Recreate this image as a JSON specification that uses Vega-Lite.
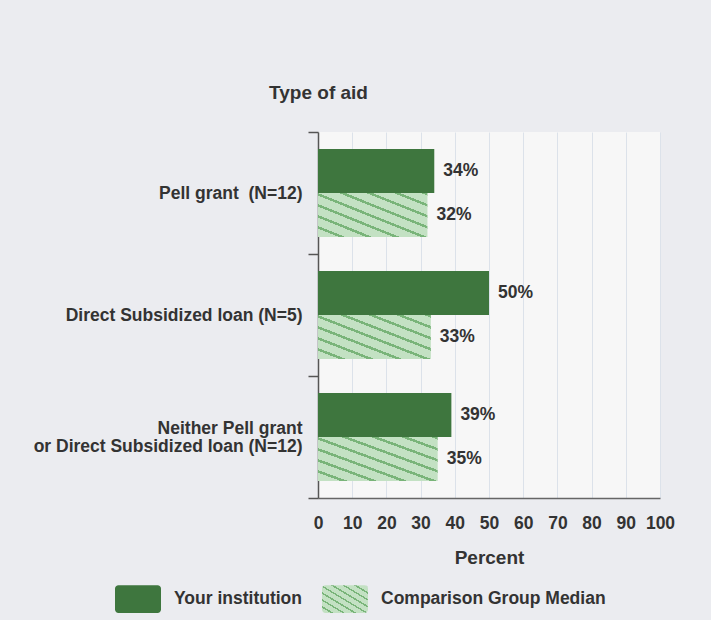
{
  "$schema": "https://vega.github.io/schema/vega-lite/v6.json",
  "width": 342,
  "height": 366,
  "autosize": "none",
  "padding": {"left": 318, "top": 132, "right": 51, "bottom": 122},
  "background": "#ebecf0",
  "config": {
    "font": "Liberation Sans",
    "view": {"fill": "#f7f7f7", "stroke": null}
  },
  "data": {
    "values": [
      {"aid": "Pell grant\u00a0 (N=12)", "series": "Your institution", "value": 34},
      {"aid": "Pell grant\u00a0 (N=12)", "series": "Comparison Group Median", "value": 32},
      {"aid": "Direct Subsidized loan (N=5)", "series": "Your institution", "value": 50},
      {"aid": "Direct Subsidized loan (N=5)", "series": "Comparison Group Median", "value": 33},
      {"aid": "Neither Pell grant|or Direct Subsidized loan (N=12)", "series": "Your institution", "value": 39},
      {"aid": "Neither Pell grant|or Direct Subsidized loan (N=12)", "series": "Comparison Group Median", "value": 35}
    ]
  },
  "encoding": {
    "y": {
      "field": "aid",
      "type": "nominal",
      "sort": null,
      "scale": {"paddingInner": 0, "paddingOuter": 0},
      "axis": {
        "title": "Type of aid",
        "titleAngle": 0,
        "titleX": 0,
        "titleY": -40,
        "titleAlign": "center",
        "titleBaseline": "middle",
        "titleFontSize": 19,
        "titleFontWeight": "bold",
        "titleColor": "#333333",
        "labelExpr": "split(datum.label, '|')",
        "labelFontSize": 17.5,
        "labelFontWeight": "bold",
        "labelColor": "#333333",
        "labelPadding": 6,
        "labelLineHeight": 18,
        "labelLimit": 400,
        "labelOffset": {"condition": {"test": "indexof(datum.label, '|') >= 0", "value": -9}, "value": 0},
        "tickSize": 10,
        "tickColor": "#555555",
        "tickWidth": 1.5,
        "tickBand": "extent",
        "domainColor": "#555555",
        "domainWidth": 1.5,
        "grid": false
      }
    },
    "yOffset": {
      "field": "series",
      "type": "nominal",
      "scale": {"domain": ["Your institution", "Comparison Group Median"], "paddingInner": 0, "paddingOuter": 0.386}
    },
    "x": {
      "field": "value",
      "type": "quantitative",
      "scale": {"domain": [0, 100]},
      "axis": {
        "title": "Percent",
        "values": [0, 10, 20, 30, 40, 50, 60, 70, 80, 90, 100],
        "grid": true,
        "gridColor": "#dce2ea",
        "gridWidth": 1,
        "ticks": false,
        "labelFlush": false,
        "labelPadding": 16,
        "labelFontSize": 17.5,
        "labelFontWeight": "bold",
        "labelColor": "#333333",
        "titleFontSize": 19,
        "titleFontWeight": "bold",
        "titleColor": "#333333",
        "titlePadding": 17,
        "domainColor": "#666666",
        "domainWidth": 1.5
      }
    }
  },
  "layer": [
    {
      "mark": {"type": "bar"},
      "encoding": {
        "color": {
          "field": "series",
          "type": "nominal",
          "scale": {
            "domain": ["Your institution", "Comparison Group Median"],
            "range": [
              "#3e763e",
              {"expr": "{gradient: 'linear', x1: 0, y1: 1, x2: 1, y2: 0, stops: [{offset: 0, color: '#c3e1c3'}, {offset: 0.095, color: '#c3e1c3'}, {offset: 0.095, color: '#79b479'}, {offset: 0.125, color: '#79b479'}, {offset: 0.125, color: '#c3e1c3'}, {offset: 0.22, color: '#c3e1c3'}, {offset: 0.22, color: '#79b479'}, {offset: 0.25, color: '#79b479'}, {offset: 0.25, color: '#c3e1c3'}, {offset: 0.345, color: '#c3e1c3'}, {offset: 0.345, color: '#79b479'}, {offset: 0.375, color: '#79b479'}, {offset: 0.375, color: '#c3e1c3'}, {offset: 0.47, color: '#c3e1c3'}, {offset: 0.47, color: '#79b479'}, {offset: 0.5, color: '#79b479'}, {offset: 0.5, color: '#c3e1c3'}, {offset: 0.595, color: '#c3e1c3'}, {offset: 0.595, color: '#79b479'}, {offset: 0.625, color: '#79b479'}, {offset: 0.625, color: '#c3e1c3'}, {offset: 0.72, color: '#c3e1c3'}, {offset: 0.72, color: '#79b479'}, {offset: 0.75, color: '#79b479'}, {offset: 0.75, color: '#c3e1c3'}, {offset: 0.845, color: '#c3e1c3'}, {offset: 0.845, color: '#79b479'}, {offset: 0.875, color: '#79b479'}, {offset: 0.875, color: '#c3e1c3'}, {offset: 0.97, color: '#c3e1c3'}, {offset: 0.97, color: '#79b479'}, {offset: 1, color: '#79b479'}]}"}
            ]
          },
          "legend": {
            "orient": "none",
            "legendX": -203,
            "legendY": 444,
            "direction": "horizontal",
            "title": null,
            "symbolType": "M-0.85,-0.6 L0.85,-0.6 A0.15,0.15 0 0 1 1,-0.45 L1,0.45 A0.15,0.15 0 0 1 0.85,0.6 L-0.85,0.6 A0.15,0.15 0 0 1 -1,0.45 L-1,-0.45 A0.15,0.15 0 0 1 -0.85,-0.6 Z",
            "symbolSize": 2116,
            "symbolStrokeWidth": 0,
            "symbolOpacity": 1,
            "labelFontSize": 17.5,
            "labelFontWeight": "bold",
            "labelColor": "#333333",
            "labelLimit": 400,
            "labelOffset": 13,
            "columnPadding": 20
          }
        }
      }
    },
    {
      "mark": {
        "type": "text",
        "align": "left",
        "baseline": "middle",
        "dx": 9,
        "fontSize": 17.5,
        "fontWeight": "bold",
        "color": "#333333",
        "text": {"expr": "datum.value + '%'"}
      }
    }
  ]
}
